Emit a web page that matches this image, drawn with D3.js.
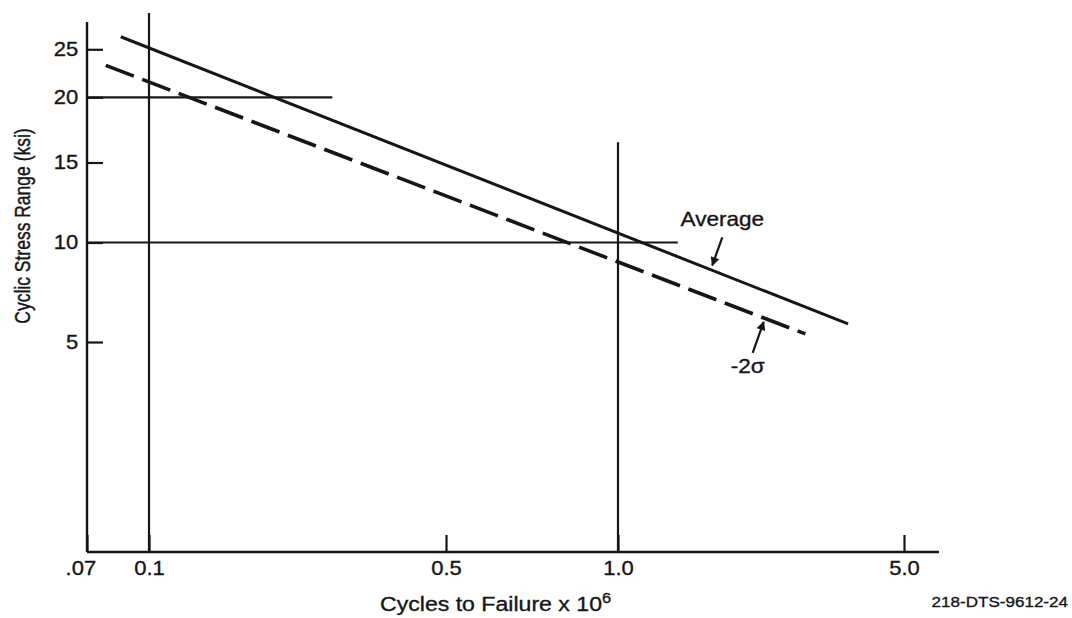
<!DOCTYPE html>
<html>
<head>
<meta charset="utf-8">
<script src="https://cdn.jsdelivr.net/npm/d3@7"></script>
<style>
body { margin: 0; background: #ffffff; }
text { font-family: "Liberation Sans", Arial, Helvetica, sans-serif; fill: #161616; stroke: #161616; stroke-width: 0.35px; }
</style>
</head>
<body>
<div id="chart"></div>
<script>
// axis ticks (cycles x 10^6 and ksi)
var xTicks = [0.07, 0.1, 0.5, 1.0, 5.0];
var xTickLabels = [".07", "0.1", "0.5", "1.0", "5.0"];
var yTicks = [5, 10, 15, 20, 25];
var yTickLabels = ["5", "10", "15", "20", "25"];

// S-N curves, end points: n = cycles (x 10^6), s = stress range (ksi)
var averageN = [0.085, 3.65];
var averageS = [26.5, 5.67];
var sigmaN = [0.078, 2.87];
var sigmaS = [23.2, 5.29];

// reference lines drawn across the plot
var vRefN = [0.1, 1.0];
var vRefTop = [29.6, 16.4];
var hRefS = [20, 10];
var hRefRight = [0.27, 1.4];

var width = 1072, height = 618;
var margin = {left: 87, top: 22, right: 133, bottom: 66};
var plotW = width - margin.left - margin.right;
var plotH = height - margin.top - margin.bottom;
var ink = "#161616";
var stretch = 1.1;   // the scan is a bit wider than tall

// the hand drawn axes are not evenly spaced, so map them piece by piece in log space
var xLin = d3.scaleLinear().domain(xTicks.map(Math.log10)).range([0, 62, 359, 531, 817]);
var yLin = d3.scaleLinear().domain(yTicks.map(Math.log10)).range([320, 220.5, 140.5, 75.3, 27.3]);
function x(v) { return xLin(Math.log10(v)); }
function y(v) { return yLin(Math.log10(v)); }

var svg = d3.select("#chart").append("svg")
	.attr("width", width)
	.attr("height", height);

var defs = svg.append("defs");
defs.append("marker")
	.attr("id", "head")
	.attr("viewBox", "0 0 10 10")
	.attr("refX", 9)
	.attr("refY", 5)
	.attr("markerWidth", 11)
	.attr("markerHeight", 9)
	.attr("markerUnits", "userSpaceOnUse")
	.attr("orient", "auto")
	.append("path")
	.attr("d", "M0,0 L10,5 L0,10 Z")
	.attr("fill", ink);

function addText(parent, px, py, str, size, anchor) {
	var t = parent.append("g")
		.attr("transform", "translate(" + px + "," + py + ")")
		.append("text")
		.attr("transform", "scale(" + stretch + ",1)")
		.attr("text-anchor", anchor)
		.style("font-size", size + "px")
		.text(str);
	return t;
}

var group = svg.append("g")
	.attr("transform", "translate(" + margin.left + "," + margin.top + ")");

// ticks
var yAxis = d3.axisLeft(yLin)
	.tickValues(yTicks.map(Math.log10))
	.tickFormat(function(d, i) { return yTickLabels[i]; })
	.tickSize(-16)
	.tickPadding(8);

var yG = group.append("g").call(yAxis).attr("color", ink);
yG.select(".domain").remove();
yG.selectAll("line").attr("stroke-width", 2.2);
yG.selectAll("text")
	.style("font-size", "20px")
	.attr("transform", "scale(" + stretch + ",1)");

var xAxis = d3.axisBottom(xLin)
	.tickValues(xTicks.map(Math.log10))
	.tickFormat(function(d, i) { return xTickLabels[i]; })
	.tickSize(-17)
	.tickPadding(9);

var xG = group.append("g")
	.attr("transform", "translate(0," + plotH + ")")
	.call(xAxis)
	.attr("color", ink);
xG.select(".domain").remove();
xG.selectAll("line").attr("stroke-width", 2.2);
xG.selectAll("text")
	.style("font-size", "20px")
	.attr("transform", "scale(" + stretch + ",1)")
	.attr("x", function(d, i) { return i === 0 ? -6 : 0; });

// frame
group.append("line")
	.attr("x1", 0).attr("x2", 0)
	.attr("y1", 0).attr("y2", plotH)
	.attr("stroke", ink).attr("stroke-width", 2.4);
group.append("line")
	.attr("x1", 0).attr("x2", plotW)
	.attr("y1", plotH).attr("y2", plotH)
	.attr("stroke", ink).attr("stroke-width", 2.4);

// reference lines
vRefN.forEach(function(n, i) {
	group.append("line")
		.attr("x1", x(n)).attr("x2", x(n))
		.attr("y1", y(vRefTop[i])).attr("y2", plotH)
		.attr("stroke", ink).attr("stroke-width", 2.2);
});
hRefS.forEach(function(s, i) {
	group.append("line")
		.attr("x1", 0).attr("x2", x(hRefRight[i]))
		.attr("y1", y(s)).attr("y2", y(s))
		.attr("stroke", ink).attr("stroke-width", 2.2);
});

// curves
var line = d3.line()
	.x(function(d) { return x(d[0]); })
	.y(function(d) { return y(d[1]); });

var avgPts = d3.zip(averageN, averageS);
var sigPts = d3.zip(sigmaN, sigmaS);

group.append("path")
	.attr("d", line(avgPts))
	.attr("fill", "none")
	.attr("stroke", ink)
	.attr("stroke-width", 3);

group.append("path")
	.attr("d", line(sigPts))
	.attr("fill", "none")
	.attr("stroke", ink)
	.attr("stroke-width", 3.6)
	.attr("stroke-dasharray", "30,9");

// pixel point on a curve at a given n
function onCurve(pts, n) {
	var x0 = x(pts[0][0]), y0 = y(pts[0][1]);
	var x1 = x(pts[1][0]), y1 = y(pts[1][1]);
	var t = (x(n) - x0) / (x1 - x0);
	return [x(n), y0 + t * (y1 - y0)];
}

// Average label + arrow
var pA = onCurve(avgPts, 1.7);
group.append("line")
	.attr("x1", pA[0] + 10).attr("y1", pA[1] - 33)
	.attr("x2", pA[0]).attr("y2", pA[1] - 5)
	.attr("stroke", ink).attr("stroke-width", 2.2)
	.attr("marker-end", "url(#head)");
addText(group, pA[0] + 10, pA[1] - 44, "Average", 20.5, "middle");

// -2 sigma label + arrow
var pS = onCurve(sigPts, 2.27);
group.append("line")
	.attr("x1", pS[0] - 11).attr("y1", pS[1] + 35)
	.attr("x2", pS[0]).attr("y2", pS[1] + 4)
	.attr("stroke", ink).attr("stroke-width", 2.2)
	.attr("marker-end", "url(#head)");
addText(group, pS[0] - 16, pS[1] + 55, "-2\u03c3", 20.5, "middle");

// titles
var xt = addText(svg, 380, 611, "Cycles to Failure x 10", 21, "start");
xt.append("tspan")
	.attr("dy", -8)
	.style("font-size", "15px")
	.text("6");

svg.append("g")
	.attr("transform", "translate(30,226) scale(1.25,1) rotate(-90)")
	.append("text")
	.attr("text-anchor", "middle")
	.style("font-size", "17.5px")
	.text("Cyclic Stress Range (ksi)");

addText(svg, 1068, 607, "218-DTS-9612-24", 15.5, "end");
</script>
</body>
</html>
